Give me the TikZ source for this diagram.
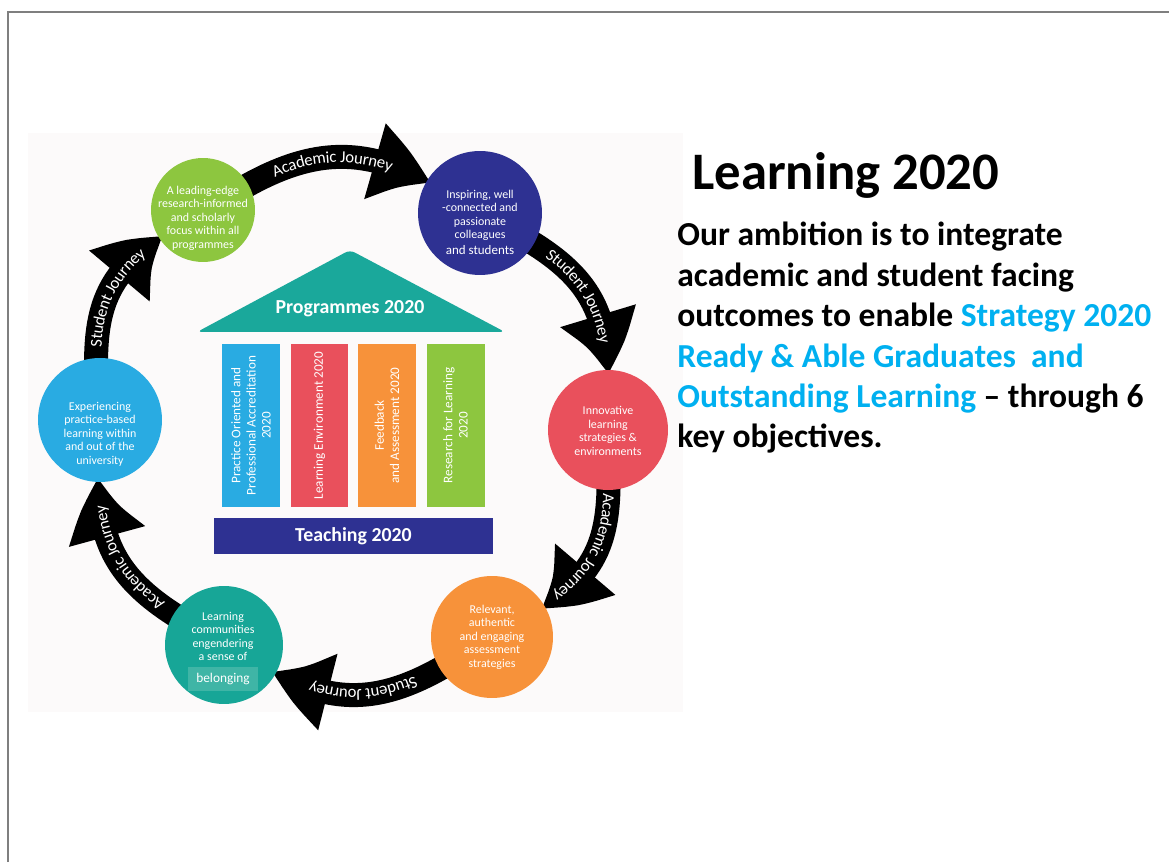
\documentclass[tikz,border=0pt]{standalone}
\usepackage{fontspec}
\setmainfont{Carlito}
\usepackage{tikz}
\usetikzlibrary{positioning,arrows.meta,bending,decorations.text}

\definecolor{leafgreen}{HTML}{8DC63F}
\definecolor{inkblue}{HTML}{2E3192}
\definecolor{coral}{HTML}{E9505C}
\definecolor{tangerine}{HTML}{F7923A}
\definecolor{teal}{HTML}{17A697}
\definecolor{tealpale}{HTML}{3FB5A6}
\definecolor{cyan}{HTML}{29ABE2}
\definecolor{roof}{HTML}{1AA89B}
\definecolor{skyblue}{HTML}{00B0F0}
\definecolor{paper}{HTML}{FCFAFA}
\definecolor{frame}{HTML}{7F7F7F}

\newcommand{\goalfont}{\fontsize{6.8}{7.7}\selectfont}
\newcommand{\pillarfont}{\fontsize{7.5}{8.6}\selectfont}
\newcommand{\journeyfont}{\fontsize{9.5}{11}\selectfont}
\newcommand{\titlefont}{\fontsize{30}{36}\selectfont\bfseries}
\newcommand{\bodyfont}{\fontsize{19.1}{23}\selectfont\bfseries}

\pgfdeclarelayer{back}
\pgfdeclarelayer{mid}
\pgfsetlayers{back,mid,main}

\begin{document}
\begin{tikzpicture}[x=0.02cm,y=0.02cm,
	goal/.style={circle, inner sep=0pt, minimum size=#1},
	goaltext/.style={text=white, align=center, font=\goalfont, inner sep=0pt},
	pillar/.style={rotate=90, minimum width=3.26cm, minimum height=1.16cm, inner sep=0pt, text=white, align=center, font=\pillarfont},
	journey/.style={line width=0.48cm, black, -{Triangle[width=1.45cm,length=1.25cm,bend]},
		shorten >=-0.1cm, shorten <=-0.3cm,
		postaction={decorate, decoration={text along path, text align={center, right indent=0.2cm}, raise=-3.3pt, text color=white, text={|\journeyfont|#1}}}}]
\useasboundingbox (0,0) rectangle (1169,862);
\draw[frame, line width=0.6pt] (8,0) -- (8,850) -- (1169,850);
\begin{pgfonlayer}{back}
	\fill[paper] (28,150) rectangle (683,729);
\end{pgfonlayer}

% the six objectives
	\node[goal=2.08cm, fill=leafgreen] (green) at (203,652) {};
	\node[goal=2.48cm, fill=inkblue] (navy) at (480,649) {};
	\node[goal=2.40cm, fill=coral] (red) at (608,432) {};
	\node[goal=2.44cm, fill=tangerine] (orange) at (492,225) {};
	\node[goal=2.36cm, fill=teal] (tealc) at (224,217) {};
	\node[goal=2.48cm, fill=cyan] (blue) at (100,442) {};

	\node[goaltext] (greentxt) at (203,644) {A leading-edge\\research-informed\\and scholarly\\focus within all\\programmes};
	\node[goaltext] (navytxt) at (480,640) {Inspiring, well\\-connected and\\passionate\\colleagues\\[1pt]{\fontsize{7.4}{8}\selectfont and students}};
	\node[goaltext] (redtxt) at (608,431) {Innovative\\learning\\strategies \&\\environments};
	\node[goaltext] (orangetxt) at (492,225) {Relevant,\\authentic\\and engaging\\assessment\\strategies};
	\node[fill=tealpale, text=white, minimum width=1.42cm, minimum height=0.48cm, inner sep=0pt, font=\fontsize{7.6}{8}\selectfont] (belong) at (223,183) {belonging};
	\node[goaltext, above=3pt of belong] (tealtxt) {Learning\\communities\\engendering\\a sense of};
	\node[goaltext] (bluetxt) at (100,428) {Experiencing\\practice-based\\learning within\\and out of the\\university};

% the journey round them
\begin{pgfonlayer}{mid}
	\draw[journey=Academic Journey] (green) to[bend left=30] (navy);
	\draw[journey=Student Journey] (navy) to[bend left=30] (red);
	\draw[journey=Academic Journey] (red) to[bend left=30] (orange);
	\draw[journey=Student Journey] (orange) to[bend left=30] (tealc);
	\draw[journey=Academic Journey] (tealc) to[bend left=30] (blue);
	\draw[journey=Student Journey] (blue) to[bend left=30] (green);
\end{pgfonlayer}

% the house
	\fill[roof, rounded corners=3pt] (197,530) -- (350,612) -- (505,530) -- cycle;
	\node[text=white, font=\fontsize{11.3}{13}\selectfont\bfseries] (prog) at (350,553) {Programmes 2020};
	\node[pillar, fill=cyan] (p1) at (251,436.5) {Practice Oriented and\\Professional Accreditation\\2020};
	\node[pillar, fill=coral] (p2) at (319.5,436.5) {Learning Environment 2020};
	\node[pillar, fill=tangerine] (p3) at (387,436.5) {Feedback\\and Assessment 2020};
	\node[pillar, fill=leafgreen] (p4) at (455.5,436.5) {Research for Learning\\2020};
	\node[fill=inkblue, text=white, minimum width=5.58cm, minimum height=0.72cm, inner sep=0pt, font=\fontsize{11.3}{13}\selectfont\bfseries] (teach) at (353.5,326) {Teaching 2020};

% text on the right
	\node[anchor=base west, inner sep=0pt, font=\titlefont] (title) at (692,672) {Learning 2020};
	\node[anchor=north west, inner sep=0pt, align=left, font=\bodyfont] (ambition) at (677,640)
		{Our ambition is to integrate\\academic and student facing\\outcomes to enable \textcolor{skyblue}{Strategy 2020}\\\textcolor{skyblue}{Ready \& Able Graduates\ \ and}\\\textcolor{skyblue}{Outstanding Learning} -- through 6\\key objectives.};
\end{tikzpicture}
\end{document}
